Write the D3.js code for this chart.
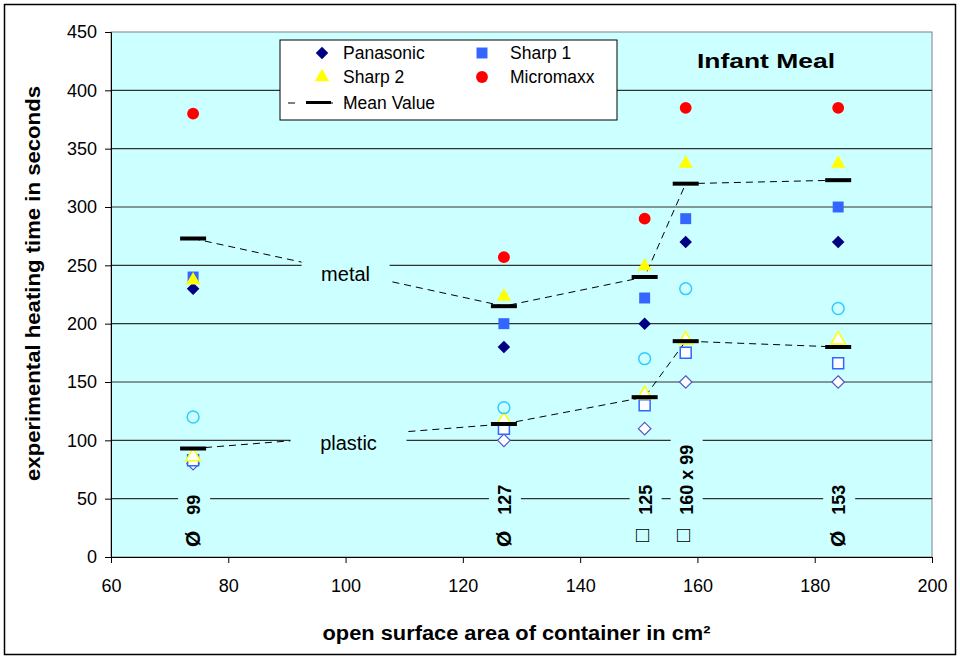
<!DOCTYPE html>
<html><head><meta charset="utf-8">
<script src="https://cdn.jsdelivr.net/npm/d3@7"></script>
<style>
body{margin:0;background:#fff;font-family:"Liberation Sans",Arial,sans-serif;}
svg{display:block;}
</style></head>
<body>
<svg id="c" width="960" height="660"></svg>
<script>
// ---- data ----
const xValues = [74, 127, 151, 158, 184];
const sizeSymbols = ["Ø", "Ø", "□", "□", "Ø"];
const sizeLabels = ["99", "127", "125", "160 x 99", "153"];
// metal containers
const metalPanasonic = [230, 180, 200, 270, 270];
const metalSharp1    = [240, 200, 222, 290, 300];
const metalSharp2    = [238, 224, 250, 338, 338];
const metalMicromaxx = [380, 257, 290, 385, 385];
const metalMean      = [273, 215, 240, 320, 323];
// plastic containers
const plasticPanasonic = [80, 100, 110, 150, 150];
const plasticSharp1    = [83, 110, 130, 175, 166];
const plasticSharp2    = [87, 118, 140, 187, 187];
const plasticMicromaxx = [120, 128, 170, 230, 213];
const plasticMean      = [93, 114, 137, 185, 180];
const xTicks = [60, 80, 100, 120, 140, 160, 180, 200];
const yTicks = [0, 50, 100, 150, 200, 250, 300, 350, 400, 450];
const seriesNames = ["Panasonic", "Sharp 1", "Sharp 2", "Micromaxx", "Mean Value"];

// ---- layout ----
const svg = d3.select("#c");
const L = 111, R = 932, T = 32, B = 557;
const x = d3.scaleLinear().domain([60, 200]).range([L, R]);
const y = d3.scaleLinear().domain([0, 450]).range([B, T]);
const bg = "#CCFFFF";

svg.append("rect").attr("x", 4.5).attr("y", 4.5).attr("width", 951).attr("height", 650)
  .attr("fill", "#fff").attr("stroke", "#000").attr("stroke-width", 1.5);

svg.append("rect").attr("x", L).attr("y", T).attr("width", R - L).attr("height", B - T)
  .attr("fill", bg).attr("stroke", "#808080").attr("stroke-width", 1);

// gridlines
svg.append("g").selectAll("line").data(yTicks.filter(d => d > 0 && d < 450)).join("line")
  .attr("x1", L).attr("x2", R).attr("y1", d => y(d)).attr("y2", d => y(d))
  .attr("stroke", "#333").attr("stroke-width", 1.2);

// axes
const yAxis = svg.append("g").attr("transform", `translate(${L},0)`)
  .call(d3.axisLeft(y).tickValues(yTicks).tickSize(6).tickPadding(8));
const xAxis = svg.append("g").attr("transform", `translate(0,${B})`)
  .call(d3.axisBottom(x).tickValues(xTicks).tickSize(6).tickPadding(16));
[yAxis, xAxis].forEach(a => {
  a.select(".domain").attr("stroke", "#000");
  a.selectAll(".tick line").attr("stroke", "#000");
  a.selectAll("text").attr("font-family", "Liberation Sans, Arial, sans-serif")
    .attr("font-size", 18).attr("fill", "#000");
});

// axis titles
svg.append("text").attr("x", (L + R) / 2 - 5).attr("y", 640).attr("text-anchor", "middle")
  .attr("font-size", 20).attr("font-weight", "bold")
  .attr("textLength", 388).attr("lengthAdjust", "spacingAndGlyphs")
  .text("open surface area of container in cm²");
svg.append("text").attr("transform", `translate(40,${(T + B) / 2 - 11}) rotate(-90)`)
  .attr("text-anchor", "middle").attr("font-size", 20).attr("font-weight", "bold")
  .attr("textLength", 395).attr("lengthAdjust", "spacingAndGlyphs")
  .text("experimental heating time in seconds");

// mean dashed lines
const lineGen = d3.line().x((d, i) => x(xValues[i])).y(d => y(d));
[metalMean, plasticMean].forEach(arr => {
  svg.append("path").attr("d", lineGen(arr)).attr("fill", "none")
    .attr("stroke", "#000").attr("stroke-width", 1).attr("stroke-dasharray", "7,5");
});

// label boxes metal / plastic
function boxLabel(txt, cx, cy, w) {
  svg.append("rect").attr("x", x(cx) - w / 2).attr("y", y(cy) - 16).attr("width", w).attr("height", 32).attr("fill", bg);
  svg.append("text").attr("x", x(cx)).attr("y", y(cy) + 7).attr("text-anchor", "middle")
    .attr("font-size", 20).text(txt);
}
boxLabel("metal", 100, 243, 88);
boxLabel("plastic", 100.5, 98, 116);

// size labels (rotated)
sizeLabels.forEach((s, i) => {
  const isSq = sizeSymbols[i] === "□";
  const g = svg.append("g").attr("transform", `translate(${x(xValues[i]) + 7},${isSq ? 542 : 547}) rotate(-90)`);
  const t = g.append("text").attr("x", 0).attr("y", 0).attr("font-size", 18).attr("font-weight", "bold");
  t.append("tspan").attr("font-size", isSq ? 22 : 21).attr("dy", isSq ? -3 : 0).text(sizeSymbols[i]);
  t.append("tspan").attr("dx", isSq ? 14 : 16).attr("dy", isSq ? 3 : 0).text(s);
  const len = t.node().getComputedTextLength();
  g.insert("rect", "text").attr("x", -2).attr("y", -22).attr("width", len + 22).attr("height", 32).attr("fill", bg);
});

// markers
const sym = {
  diamond: d3.symbol().type(d3.symbolDiamond2 || d3.symbolDiamond).size(100),
  square: d3.symbol().type(d3.symbolSquare).size(120),
  triangle: d3.symbol().type(d3.symbolTriangle).size(90),
  circle: d3.symbol().type(d3.symbolCircle).size(110)
};
function drawPts(arr, shape, fill, stroke, sw, dy) {
  svg.append("g").selectAll("path").data(arr).join("path")
    .attr("transform", (d, i) => `translate(${x(xValues[i])},${y(d) + (dy || 0)})`)
    .attr("d", sym[shape]()).attr("fill", fill).attr("stroke", stroke).attr("stroke-width", sw);
}
// plastic (open)
drawPts(plasticPanasonic, "diamond", "#fff", "#5555CC", 1.2);
drawPts(plasticSharp1, "square", "#fff", "#3366FF", 1.5);
drawPts(plasticSharp2, "triangle", "#fff", "#FFFF00", 1.5, 1);
drawPts(plasticMicromaxx, "circle", "none", "#33CCFF", 1.5);
// metal (filled)
drawPts(metalSharp1, "square", "#3366FF", "none", 0);
drawPts(metalPanasonic, "diamond", "#000080", "none", 0);
drawPts(metalSharp2, "triangle", "#FFFF00", "none", 0, 1);
drawPts(metalMicromaxx, "circle", "#FF0000", "none", 0);
// mean dashes
[metalMean, plasticMean].forEach(arr => {
  svg.append("g").selectAll("rect").data(arr).join("rect")
    .attr("x", (d, i) => x(xValues[i]) - 13).attr("y", d => y(d) - 2)
    .attr("width", 26).attr("height", 4).attr("fill", "#000");
});

// legend
const lg = svg.append("g").attr("transform", "translate(280,40)");
lg.append("rect").attr("x", 0).attr("y", 0).attr("width", 337).attr("height", 80)
  .attr("fill", "#fff").attr("stroke", "#000").attr("stroke-width", 1);
const legendItems = [
  {name: seriesNames[0], shape: "diamond", fill: "#000080", cx: 42, cy: 13, tx: 63},
  {name: seriesNames[1], shape: "square", fill: "#3366FF", cx: 202, cy: 13, tx: 230},
  {name: seriesNames[2], shape: "triangle", fill: "#FFFF00", cx: 42, cy: 37, tx: 63},
  {name: seriesNames[3], shape: "circle", fill: "#FF0000", cx: 202, cy: 37, tx: 230}
];
legendItems.forEach(it => {
  lg.append("path").attr("transform", `translate(${it.cx},${it.cy})`).attr("d", sym[it.shape]()).attr("fill", it.fill);
  lg.append("text").attr("x", it.tx).attr("y", it.cy + 6).attr("font-size", 17.5).text(it.name);
});
lg.append("line").attr("x1", 8).attr("x2", 68).attr("y1", 63).attr("y2", 63)
  .attr("stroke", "#000").attr("stroke-dasharray", "7,12");
lg.append("rect").attr("x", 26).attr("y", 61).attr("width", 25).attr("height", 3).attr("fill", "#000");
lg.append("text").attr("x", 63).attr("y", 69).attr("font-size", 17.5).text(seriesNames[4]);

// title
svg.append("text").attr("x", 766).attr("y", 68).attr("text-anchor", "middle")
  .attr("font-size", 21).attr("font-weight", "bold")
  .attr("textLength", 138).attr("lengthAdjust", "spacingAndGlyphs").text("Infant Meal");
</script>
</body></html>
